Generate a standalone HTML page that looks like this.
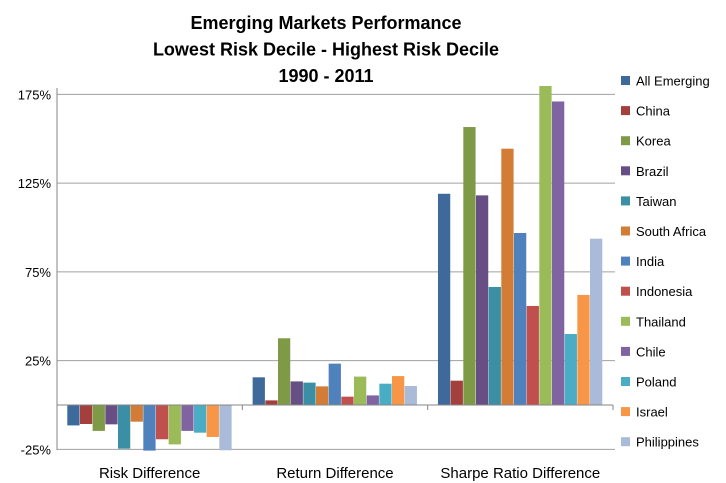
<!DOCTYPE html>
<html><head><meta charset="utf-8">
<style>
html,body{margin:0;padding:0;background:#fff;}
svg{display:block;font-family:"Liberation Sans",Arial,sans-serif;}
</style></head>
<body>
<svg id="chart" width="726" height="483" viewBox="0 0 726 483" xmlns="http://www.w3.org/2000/svg">
<g font-weight="bold" font-size="18" text-anchor="middle" fill="#000">
<text x="326" y="29">Emerging Markets Performance</text>
<text x="326" y="55.5">Lowest Risk Decile - Highest Risk Decile</text>
<text x="326" y="82">1990 - 2011</text>
</g>
<defs><clipPath id="plotclip"><rect x="57" y="86" width="560" height="366"/></clipPath></defs>
<g id="grid"></g>
<g id="bars" clip-path="url(#plotclip)"></g>
<g id="axes"></g>
<g id="legend"></g>
</svg>
<script>
const categories = ["Risk Difference", "Return Difference", "Sharpe Ratio Difference"];
const seriesNames = ["All Emerging","China","Korea","Brazil","Taiwan","South Africa","India","Indonesia","Thailand","Chile","Poland","Israel","Philippines"];
const riskValues   = [-11.5,-10.7,-14.6,-10.9,-24.6,-9.4,-25.7,-19.3,-22.2,-14.6,-15.6,-18,-25.5];
const returnValues = [15.6,2.6,37.6,13.3,12.6,10.5,23.3,4.7,16,5.4,12,16.3,10.7];
const sharpeValues = [119,13.7,156.6,118.1,66.5,144.4,96.9,55.8,180,171,40,62,93.7];
const tickValues = [-25,25,75,125,175];
const tickLabels = ["-25%","25%","75%","125%","175%"];
const colors = ["#3D6A9A","#A33F3D","#7F9A46","#674F86","#3A8FA4","#D27C35","#4F81BD","#C0504D","#9BBB59","#8064A2","#4BACC6","#F79646","#A9BBD9"];

const NS="http://www.w3.org/2000/svg";
const plotL=57, plotR=613, zeroY=405, pxPer=1.775;
const y = v => zeroY - v*pxPer;
const groupW=(plotR-plotL)/categories.length;
const barW=12.67, barOff=10.3;
const x = (g,s) => plotL + g*groupW + barOff + s*barW;
function mk(tag, attrs, parent){const e=document.createElementNS(NS,tag);for(const k in attrs)e.setAttribute(k,attrs[k]);parent.appendChild(e);return e;}

const grid=document.getElementById('grid');
tickValues.forEach((t,i)=>{
  const l=mk('line',{x1:plotL,x2:plotR+2,y1:y(t),y2:y(t),stroke:'#A0A0A0','stroke-width':1},grid);
  
  
  const tx=mk('text',{x:plotL-6,y:y(t)+5,'text-anchor':'end','font-size':13,fill:'#000'},grid);
  tx.textContent=tickLabels[i];
  
  
});

const bars=document.getElementById('bars');
const allData=[riskValues,returnValues,sharpeValues];
allData.forEach((vals,g)=>{
  vals.forEach((v,s)=>{
    const top=Math.min(y(v),zeroY), h=Math.abs(y(v)-zeroY);
    const r=mk('rect',{x:x(g,s),y:top,width:barW-0.4,height:h,fill:colors[s]},bars);
    
    
  });
});

const axes=document.getElementById('axes');
const ya=mk('line',{x1:plotL,x2:plotL,y1:88,y2:450,stroke:'#868686','stroke-width':1},axes);


const xa=mk('line',{x1:plotL,x2:plotR,y1:zeroY,y2:zeroY,stroke:'#868686','stroke-width':1},axes);


for(let i=0;i<=categories.length;i++){
  const tk=mk('line',{x1:plotL+i*groupW,x2:plotL+i*groupW,y1:zeroY,y2:zeroY+5,stroke:'#868686'},axes);
  
  
}
categories.forEach((c,i)=>{
  const t=mk('text',{x:plotL+(i+0.5)*groupW,y:478,'text-anchor':'middle','font-size':15,fill:'#000'},axes);
  t.textContent=c;
  
  
});

const legend=document.getElementById('legend');
seriesNames.forEach((n,i)=>{
  const yy=81+i*30.1;
  const sw=mk('rect',{x:621,y:yy-5,width:9,height:9,fill:colors[i]},legend);
  
  
  const t=mk('text',{x:636,y:yy+4.5,'font-size':13,fill:'#000'},legend);
  t.textContent=n;
  
  
});
</script>
</body></html>
